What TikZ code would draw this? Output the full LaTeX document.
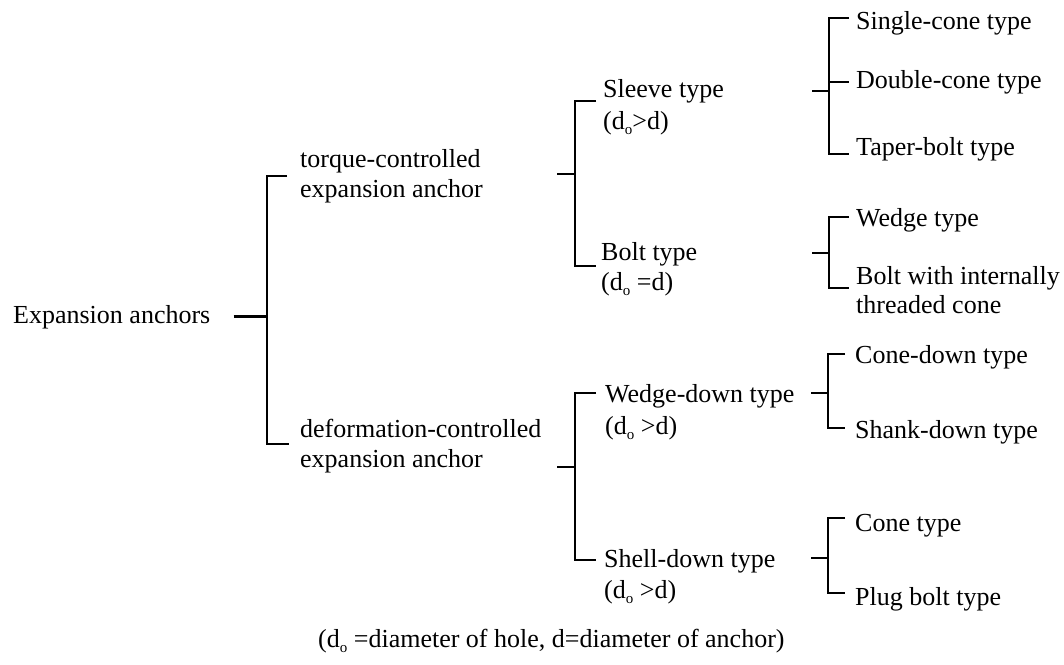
\documentclass[tikz,border=0pt]{standalone}
\usepackage{fontspec}
\setmainfont{Liberation Serif}
\usetikzlibrary{calc}
\newcommand{\dsub}{{\fontsize{15}{15}\selectfont\raisebox{-5pt}{o}}}
\begin{document}
\begin{tikzpicture}[x=1pt,y=-1pt,
  txt/.style={anchor=base west, inner sep=0pt, font=\fontsize{26}{30}\selectfont},
  br/.style={line width=2.6pt, line cap=butt, line join=miter}]
\useasboundingbox (0,0) rectangle (1064,664);

% ---------- texts ----------
\node[txt] (root) at (13,323) {Expansion anchors};
\node[txt] (tq)  at (300,167) {torque-controlled};
\node[txt] (tq2) at (300,197) {expansion anchor};
\node[txt] (df)  at (300,437) {deformation-controlled};
\node[txt] (df2) at (300,467) {expansion anchor};

\node[txt] (sl)  at (603,97)  {Sleeve type};
\node[txt] (sl2) at (603,129) {(d\dsub>d)};
\node[txt] (bt)  at (601,260) {Bolt type};
\node[txt] (bt2) at (601,290) {(d\dsub\ =d)};
\node[txt] (wd)  at (605,402) {Wedge-down type};
\node[txt] (wd2) at (605,434) {(d\dsub\ >d)};
\node[txt] (sd)  at (604,567) {Shell-down type};
\node[txt] (sd2) at (604,598) {(d\dsub\ >d)};

\node[txt] (sc) at (856,29)  {Single-cone type};
\node[txt] (dc) at (856,88)  {Double-cone type};
\node[txt] (tb) at (856,155) {Taper-bolt type};
\node[txt] (wt) at (856,226) {Wedge type};
\node[txt] (bi) at (856,284) {Bolt with internally};
\node[txt] (bi2) at (856,313) {threaded cone};
\node[txt] (cd) at (855,363) {Cone-down type};
\node[txt] (sk) at (855,438) {Shank-down type};
\node[txt] (ct) at (855,531) {Cone type};
\node[txt] (pb) at (855,605) {Plug bolt type};

\node[txt] (note) at (318,647) {(d\dsub\ =diameter of hole, d=diameter of anchor)};

% ---------- bracket coordinates ----------
\coordinate (b1t) at (267,176); \coordinate (b1b) at (267,444); \coordinate (b1m) at (267,317);
\coordinate (b2t) at (575,101); \coordinate (b2b) at (575,266); \coordinate (b2m) at (575,174); \coordinate (b2s) at (557,174);
\coordinate (b3t) at (575,393); \coordinate (b3b) at (575,560); \coordinate (b3m) at (575,467); \coordinate (b3s) at (557,467);
\coordinate (b4t) at (829,18);  \coordinate (b4b) at (829,154); \coordinate (b4c) at (829,82);  \coordinate (b4m) at (829,91);  \coordinate (b4s) at (812,91);
\coordinate (b5t) at (829,217); \coordinate (b5b) at (829,288); \coordinate (b5m) at (829,253); \coordinate (b5s) at (812,253);
\coordinate (b6t) at (828,354); \coordinate (b6b) at (828,428); \coordinate (b6m) at (828,393); \coordinate (b6s) at (811,393);
\coordinate (b7t) at (828,518); \coordinate (b7b) at (828,593); \coordinate (b7m) at (828,558); \coordinate (b7s) at (811,558);

% ---------- level 1 ----------
\draw[br] ($(root.east)+(23,0)$) -- (root.east -| b1m);
\draw[br] ($(b1t -| tq.west)+(-13,0)$) -- (b1t) -- (b1b) -- ($(b1b -| df.west)+(-11,0)$);

% ---------- level 2 ----------
\draw[br] (b2s) -- (b2m);
\draw[br] ($(b2t -| sl.west)+(-7,0)$) -- (b2t) -- (b2b) -- ($(b2b -| bt.west)+(-5,0)$);
\draw[br] (b3s) -- (b3m);
\draw[br] ($(b3t -| wd.west)+(-9,0)$) -- (b3t) -- (b3b) -- ($(b3b -| sd.west)+(-8,0)$);

% ---------- level 3 ----------
\draw[br] (b4s) -- (b4m);
\draw[br] ($(b4t -| sc.west)+(-7,0)$) -- (b4t) -- (b4b) -- ($(b4b -| tb.west)+(-7,0)$);
\draw[br] (b4c) -- ($(b4c -| dc.west)+(-7,0)$);
\draw[br] (b5s) -- (b5m);
\draw[br] ($(b5t -| wt.west)+(-7,0)$) -- (b5t) -- (b5b) -- ($(b5b -| bi.west)+(-7,0)$);
\draw[br] (b6s) -- (b6m);
\draw[br] ($(b6t -| cd.west)+(-10,0)$) -- (b6t) -- (b6b) -- ($(b6b -| sk.west)+(-10,0)$);
\draw[br] (b7s) -- (b7m);
\draw[br] ($(b7t -| ct.west)+(-10,0)$) -- (b7t) -- (b7b) -- ($(b7b -| pb.west)+(-10,0)$);
\end{tikzpicture}
\end{document}
